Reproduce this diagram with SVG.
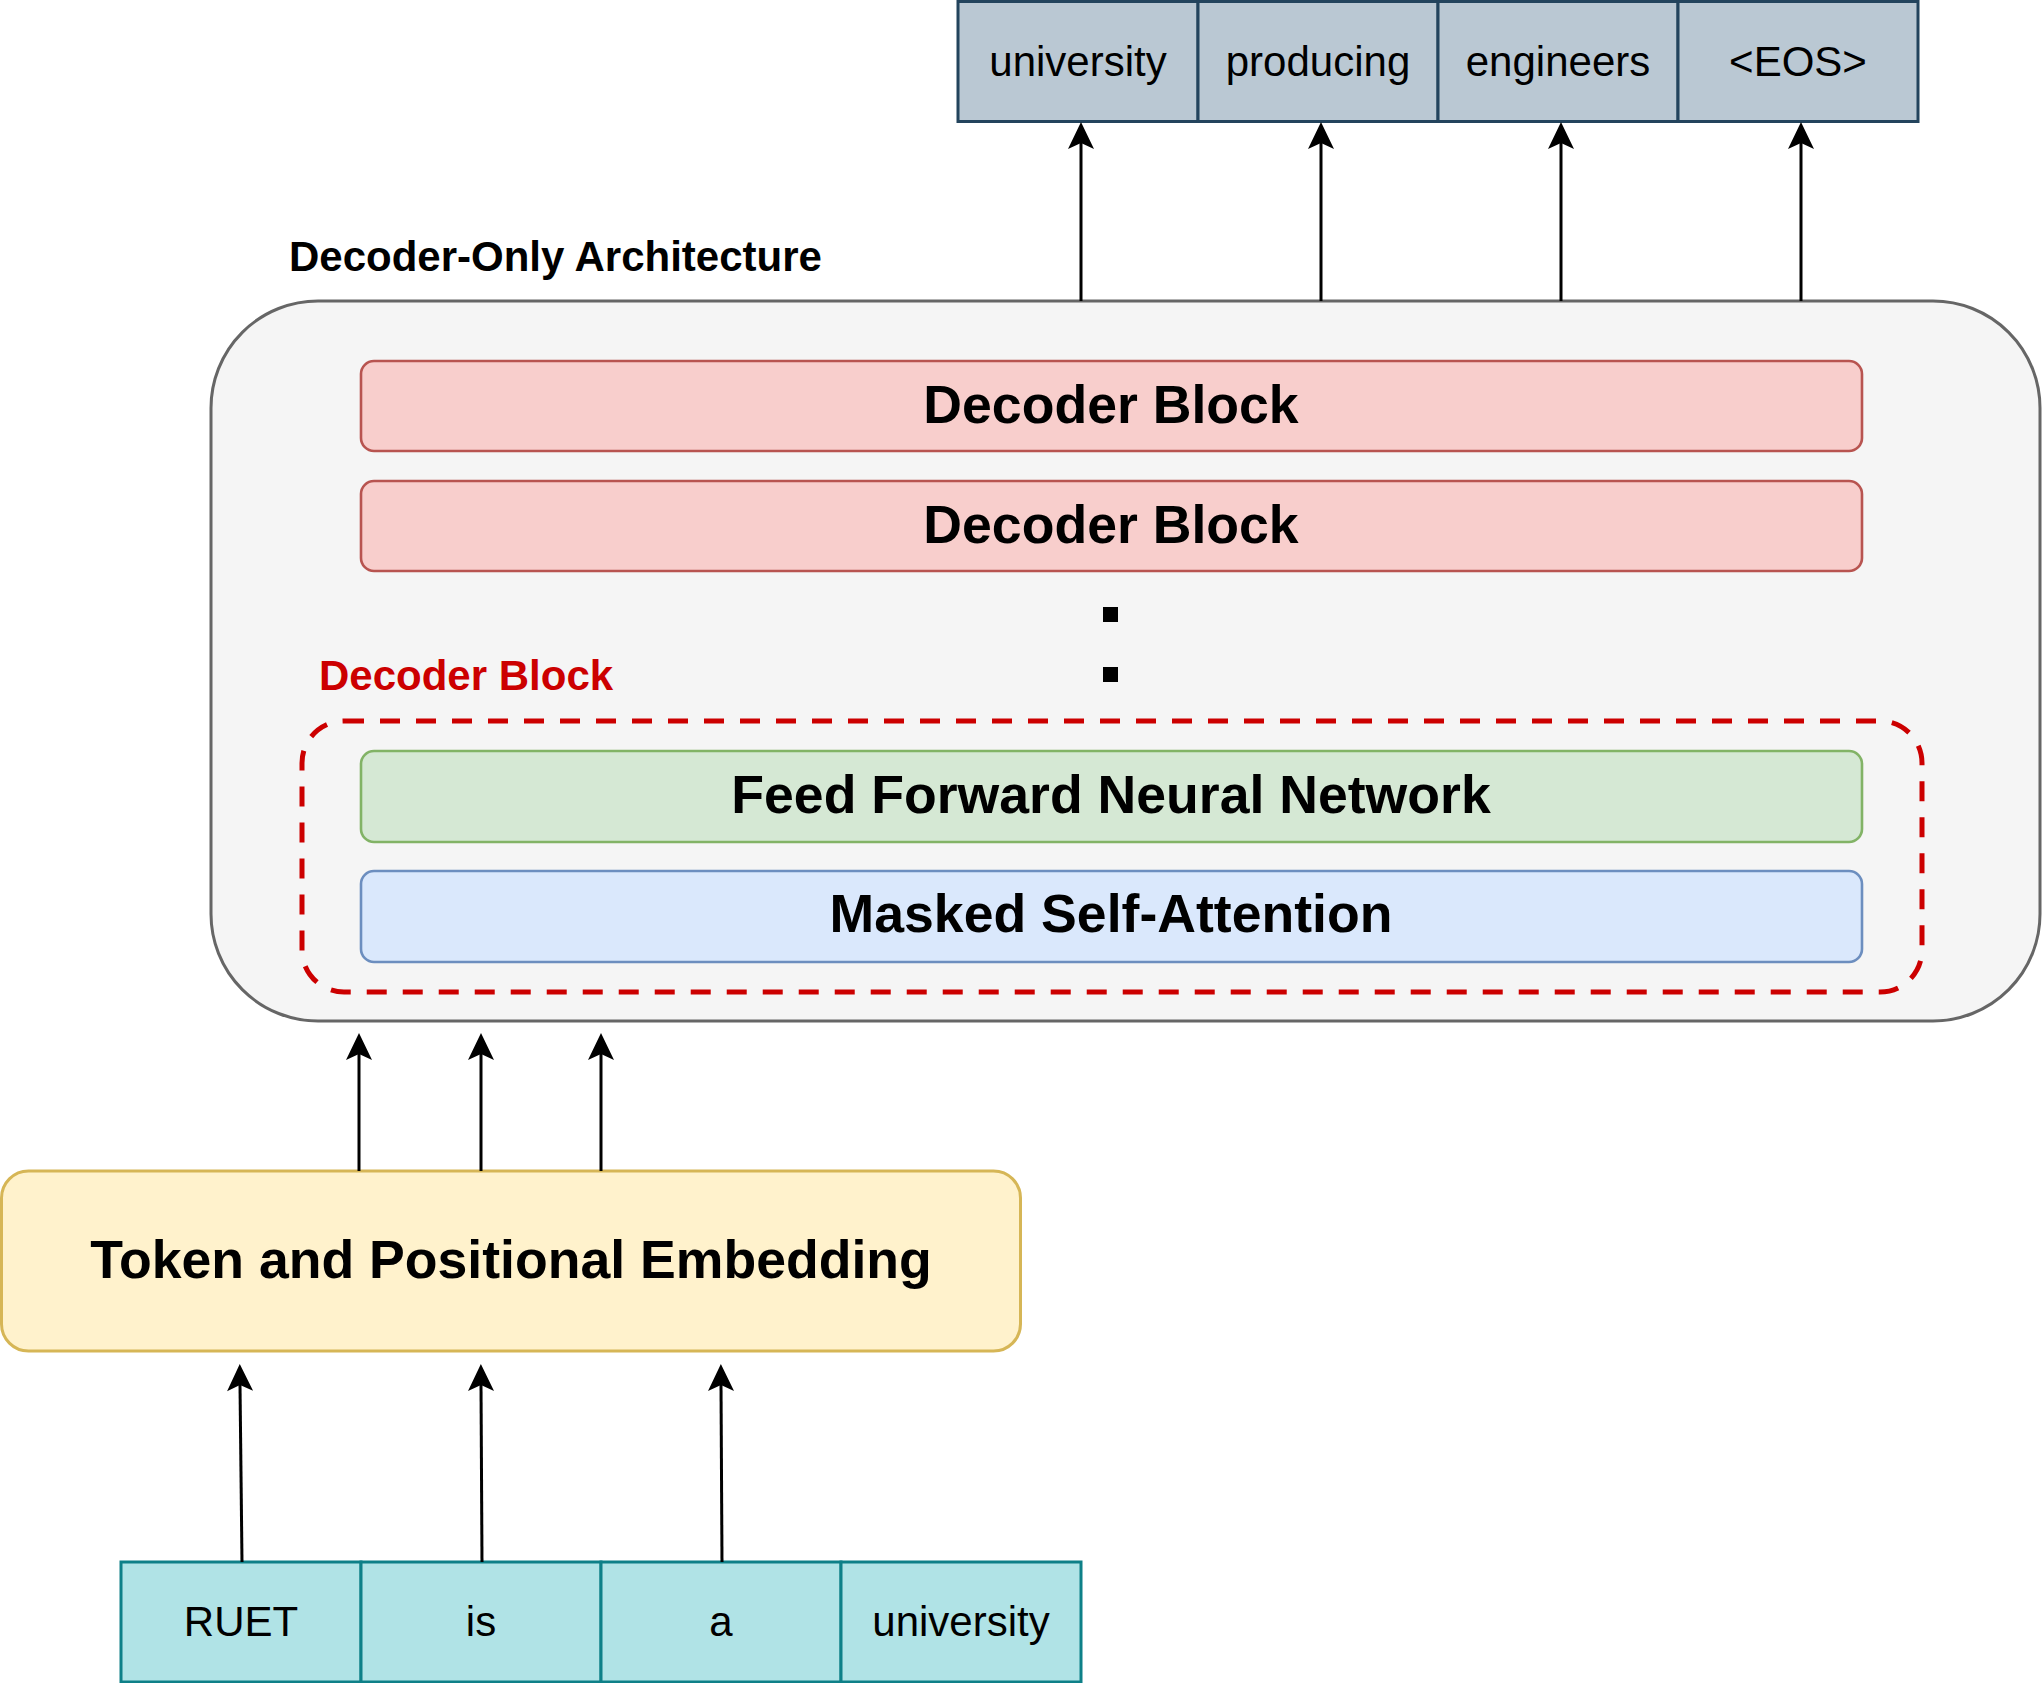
<svg xmlns="http://www.w3.org/2000/svg" width="2043" height="1683" viewBox="0 0 2043 1683">
<defs>
<style>
text{font-family:"Liberation Sans",Arial,sans-serif;fill:#000;text-anchor:middle}
.big{font-size:53.6px;font-weight:bold}
.mid{font-size:42px;font-weight:bold}
.tok{font-size:42px}
.out{fill:#bac8d3;stroke:#23445d;stroke-width:3}
.inp{fill:#b0e3e6;stroke:#0e8088;stroke-width:3}
.dec{fill:#f8cecc;stroke:#b85450;stroke-width:2.6}
.ffn{fill:#d5e8d4;stroke:#82b366;stroke-width:2.6}
.att{fill:#dae8fc;stroke:#6c8ebf;stroke-width:2.6}
.edge{fill:none;stroke:#000;stroke-width:3;marker-end:url(#arr)}
</style>
<marker id="arr" markerUnits="userSpaceOnUse" viewBox="-10 -15 35 30" markerWidth="35" markerHeight="30" refX="0" refY="0" orient="auto">
<path d="M21,0 L-6,-13 L0,0 L-6,13 Z" fill="#000"/>
</marker>
</defs>
<rect width="2043" height="1683" fill="#fff"/>
<g id="container">
<rect x="211" y="301" width="1829" height="720" rx="107" ry="107" fill="#f5f5f5" stroke="#666666" stroke-width="3"/>
</g>
<g id="title"><text class="mid" x="289" y="271" style="text-anchor:start">Decoder-Only Architecture</text></g>
<g id="decoder1"><rect class="dec" x="361" y="361" width="1501" height="90" rx="13"/><text class="big" x="1111" y="423">Decoder Block</text></g>
<g id="decoder2"><rect class="dec" x="361" y="481" width="1501" height="90" rx="13"/><text class="big" x="1111" y="543">Decoder Block</text></g>
<g id="dots"><rect x="1103" y="607" width="15" height="15" fill="#000"/><rect x="1103" y="667" width="15" height="15" fill="#000"/></g>
<g id="decoder-label"><text class="mid" x="319" y="690" style="text-anchor:start;fill:#cc0000">Decoder Block</text></g>
<g id="decoder-group"><rect x="302" y="721" width="1620" height="271" rx="42" fill="none" stroke="#cc0000" stroke-width="5" stroke-dasharray="20 16"/></g>
<g id="ffnn"><rect class="ffn" x="361" y="751" width="1501" height="91" rx="13"/><text class="big" x="1111" y="813">Feed Forward Neural Network</text></g>
<g id="attention"><rect class="att" x="361" y="871" width="1501" height="91" rx="13"/><text class="big" x="1111" y="932">Masked Self-Attention</text></g>
<g id="embedding"><rect x="1.5" y="1171" width="1019" height="180" rx="27" fill="#fff2cc" stroke="#d6b656" stroke-width="3"/><text class="big" x="511" y="1278">Token and Positional Embedding</text></g>
<g id="outputs">
<rect class="out" x="958" y="1.5" width="240" height="120"/><text class="tok" x="1078" y="76">university</text>
<rect class="out" x="1198" y="1.5" width="240" height="120"/><text class="tok" x="1318" y="76">producing</text>
<rect class="out" x="1438" y="1.5" width="240" height="120"/><text class="tok" x="1558" y="76">engineers</text>
<rect class="out" x="1678" y="1.5" width="240" height="120"/><text class="tok" x="1798" y="76">&lt;EOS&gt;</text>
</g>
<g id="inputs">
<rect class="inp" x="121" y="1562" width="240" height="120"/><text class="tok" x="241" y="1636">RUET</text>
<rect class="inp" x="361" y="1562" width="240" height="120"/><text class="tok" x="481" y="1636">is</text>
<rect class="inp" x="601" y="1562" width="240" height="120"/><text class="tok" x="721" y="1636">a</text>
<rect class="inp" x="841" y="1562" width="240" height="120"/><text class="tok" x="961" y="1636">university</text>
</g>
<g id="connectors">
<path class="edge" d="M1081,301 V143"/>
<path class="edge" d="M1321,301 V143"/>
<path class="edge" d="M1561,301 V143"/>
<path class="edge" d="M1801,301 V143"/>
<path class="edge" d="M359,1171 V1054"/>
<path class="edge" d="M481,1171 V1054"/>
<path class="edge" d="M601,1171 V1054"/>
<path class="edge" d="M242,1562 L240,1385"/>
<path class="edge" d="M482,1562 L481,1385"/>
<path class="edge" d="M722,1562 L721,1385"/>
</g>
</svg>
